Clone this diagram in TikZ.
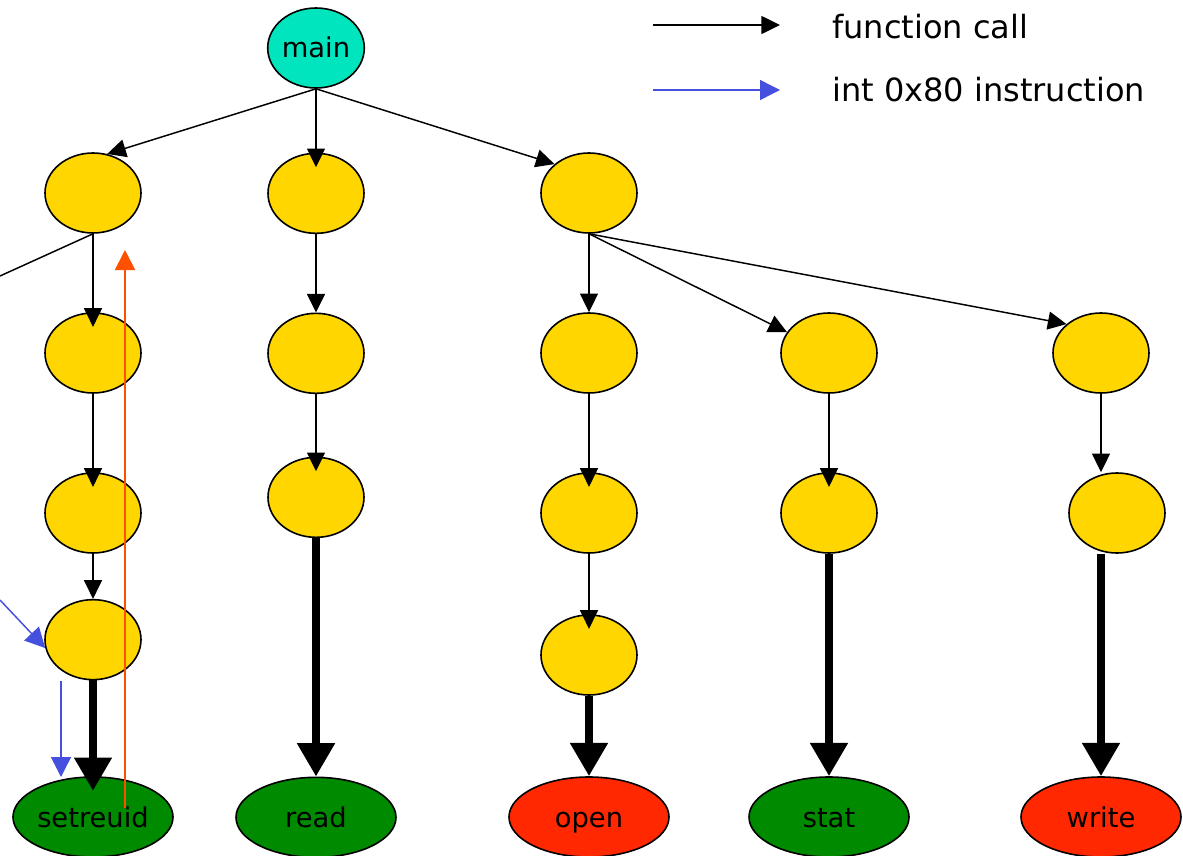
\documentclass[tikz,border=0pt]{standalone}
\usepackage{fontspec}
\setmainfont{DejaVu Sans}
\usetikzlibrary{positioning,shapes.geometric,arrows.meta}
\definecolor{mainc}{RGB}{0,229,190}
\definecolor{fnc}{RGB}{255,214,0}
\definecolor{okc}{RGB}{0,138,0}
\definecolor{badc}{RGB}{255,40,0}
\definecolor{trapc}{RGB}{70,80,222}
\definecolor{retc}{RGB}{255,80,0}

\begin{document}
\begin{tikzpicture}[x=0.75pt,y=0.75pt,
		fn/.style={draw, ellipse, line width=1.2pt, fill=fnc, minimum width=72pt, minimum height=60pt, inner sep=0pt, font=\fontsize{20.5}{24}\selectfont, text height=16pt, text depth=1pt},
		sys/.style={fn, minimum width=120pt},
		call/.style={-{Triangle[length=14pt,width=13.5pt]}, line width=1.1pt},
		trap/.style={-{Triangle[length=15pt,width=15pt]}, line width=1.1pt, trapc},
		ret/.style={-{Triangle[length=15pt,width=15pt]}, line width=1.3pt, retc},
		lib/.style={-{Triangle[length=25pt,width=27pt]}, line width=6pt},
		deep/.style={shorten >=-11pt},
		key/.style={anchor=west, inner sep=0pt, font=\fontsize{24}{28}\selectfont}]
				\useasboundingbox (0,0) rectangle (1183,-856);
				\node[fn, fill=mainc] (main) at (316,-48) {main};
				\node[fn] (a1) at (93,-193) {};
				\node[fn, below of=a1, node distance=120pt] (a2) {};
				\node[fn, below of=a2, node distance=120pt] (a3) {};
				\node[fn, below of=a3, node distance=95pt] (a4) {};
				\node[sys, fill=okc, below of=a4, node distance=133pt] (setreuid) {setreuid};
				\node[fn, below of=main, node distance=109pt] (b1) {};
				\node[fn, below of=b1, node distance=120pt] (b2) {};
				\node[fn, below of=b2, node distance=108pt] (b3) {};
				\node[sys, fill=okc, below of=b3, node distance=240pt] (read) {read};
				\node[fn] (c1) at (589,-193) {};
				\node[fn, below of=c1, node distance=120pt] (c2) {};
				\node[fn, below of=c2, node distance=120pt] (c3) {};
				\node[fn, below of=c3, node distance=106.5pt] (c4) {};
				\node[sys, fill=badc, below of=c4, node distance=121.5pt] (open) {open};
				\node[fn, right of=c2, node distance=180pt] (d2) {};
				\node[fn, below of=d2, node distance=120pt] (d3) {};
				\node[sys, fill=okc, below of=d3, node distance=228pt] (stat) {stat};
				\node[fn, right of=d2, node distance=204pt] (e2) {};
				\node[fn, below of=e2, node distance=120pt, xshift=12pt] (e3) {};
				\node[sys, fill=badc, below of=e2, node distance=348pt] (write) {write};
				\coordinate (offl) at (0,-276);
				\coordinate (offb) at (0,-600);
				\coordinate (bd1) at (61,-681);
				\coordinate (bd2) at (61,-777);
				\coordinate (ru1) at (125,-808);
				\coordinate (ru2) at (125,-250);
				\draw[call] (main.south) -- (a1.70);
				\draw[call, deep] (main.south) -- (b1);
				\draw[call] (main.south) -- (c1.140);
				\draw[line width=1.1pt] (a1.south) -- (offl);
				\draw[call, deep] (a1) -- (a2);
				\draw[call, deep] (a2) -- (a3);
				\draw[call] (a3) -- (a4);
				\draw[lib, deep] (a4) -- (setreuid);
				\draw[trap] (offb) -- (a4.190);
				\draw[trap] (bd1) -- (bd2);
				\draw[ret] (ru1) -- (ru2);
				\draw[call] (b1) -- (b2);
				\draw[call, deep] (b2) -- (b3);
				\draw[lib] (b3) -- (read);
				\draw[call] (c1) -- (c2);
				\draw[call] (c1.south) -- (d2);
				\draw[call] (c1.south) -- (e2.140);
				\draw[call, deep] (c2) -- (c3);
				\draw[call, deep] (c3) -- (c4);
				\draw[lib] (c4) -- (open);
				\draw[call, deep] (d2) -- (d3);
				\draw[lib] (d3) -- (stat);
				\draw[call] (e2) -- (e3.north -| e2);
				\draw[lib] (e3.south -| write) -- (write);
				\coordinate (k1) at (653,-25);
				\coordinate (k2) at (780,-25);
				\coordinate (k3) at (653,-90);
				\coordinate (k4) at (780,-90);
				\draw[call] (k1) -- (k2);
				\draw[trap] (k3) -- (k4);
				\node[key] (kcall) at (832,-27) {function call};
				\node[key] (ktrap) at (832,-90) {int 0x80 instruction};
			\end{tikzpicture}
\end{document}
